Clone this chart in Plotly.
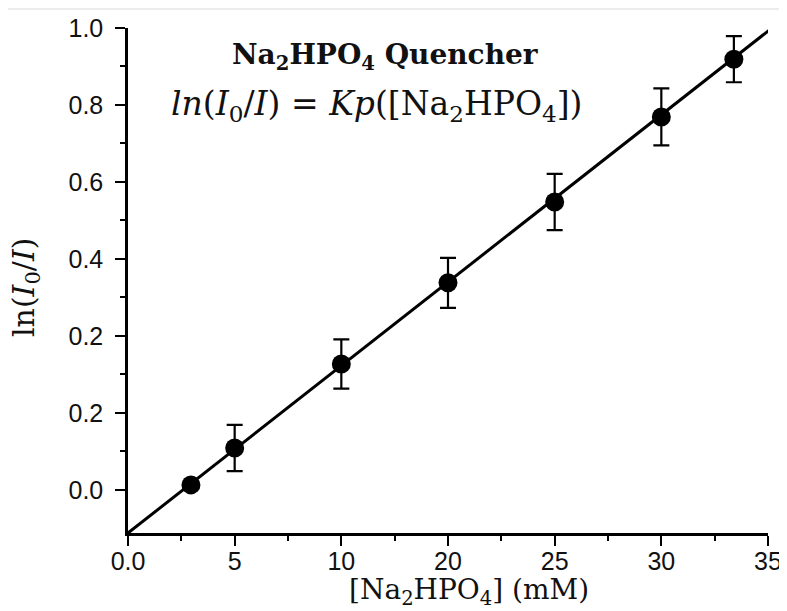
import plotly.graph_objects as go

# Data in axis units (ticks are evenly spaced; labels as printed in the original)
X_POS = [2.95, 5.0, 10.0, 15.0, 20.0, 25.0, 28.4]
Y_VAL = [0.013, 0.109, 0.327, 0.538, 0.748, 0.969, 1.119]
Y_ERR = [0.0, 0.060, 0.064, 0.065, 0.073, 0.074, 0.060]

FIT_X = [0.0, 30.3]
FIT_Y = [-0.112, 1.205]

X_TICKVALS = [0, 5, 10, 15, 20, 25, 30]
X_TICKTEXT = ["0.0", "5", "10", "20", "25", "30", "35"]
X_MINOR = [2.5, 7.5, 12.5, 17.5, 22.5, 27.5]

Y_TICKVALS = [0.0, 0.2, 0.4, 0.6, 0.8, 1.0, 1.2]
Y_TICKTEXT = ["0.0", "0.2", "0.2", "0.4", "0.6", "0.8", "1.0"]
Y_MINOR = [0.1, 0.3, 0.5, 0.7, 0.9, 1.1]

SANS = "Liberation Sans, Arial, sans-serif"
SERIF = "DejaVu Serif, serif"

fig = go.Figure()
fig.add_trace(go.Scatter(
    x=FIT_X, y=FIT_Y, mode="lines",
    line=dict(color="black", width=3), showlegend=False, hoverinfo="skip"))
fig.add_trace(go.Scatter(
    x=X_POS, y=Y_VAL, mode="markers",
    marker=dict(color="black", size=19),
    error_y=dict(type="data", array=Y_ERR, visible=True, color="black",
                 thickness=2.2, width=8),
    showlegend=False, cliponaxis=False))

axis_common = dict(
    showline=True, linecolor="black", linewidth=2.5, showgrid=False,
    zeroline=False, ticks="outside", ticklen=10, tickwidth=2.2, tickcolor="black",
    tickfont=dict(family=SANS, size=25, color="#111"), mirror=False,
    automargin=False,
)
fig.update_xaxes(
    **axis_common, range=[0, 30], tickmode="array",
    tickvals=X_TICKVALS, ticktext=X_TICKTEXT, ticklabelstandoff=-6,
    minor=dict(tickmode="array", tickvals=X_MINOR, ticks="outside",
               ticklen=5, tickwidth=2.2, tickcolor="black"),
)
fig.update_yaxes(
    **axis_common, range=[-0.112, 1.2], tickmode="array",
    tickvals=Y_TICKVALS, ticktext=Y_TICKTEXT, ticklabelstandoff=7,
    minor=dict(tickmode="array", tickvals=Y_MINOR, ticks="outside",
               ticklen=5, tickwidth=2.2, tickcolor="black"),
)

ann = dict(xref="paper", yref="paper", showarrow=False,
           xanchor="center", yanchor="middle")

# Axis titles
fig.add_annotation(
    **ann, x=0.533, y=-0.115,
    text="[Na<sub>2</sub>HPO<sub>4</sub>] (mM)",
    font=dict(family=SERIF, size=28, color="#111"))
fig.add_annotation(
    **ann, x=-0.161, y=0.487, textangle=-90,
    text="ln(<i>I</i><sub>0</sub>/<i>I</i>)",
    font=dict(family=SERIF, size=30, color="#111"))

# In-plot labels
fig.add_annotation(
    **ann, x=0.403, y=0.943,
    text="<b>Na<sub>2</sub>HPO<sub>4</sub> Quencher</b>",
    font=dict(family=SERIF, size=28, color="#111"))
fig.add_annotation(
    **ann, x=0.389, y=0.846,
    text="<i>ln</i>(<i>I</i><sub>0</sub>/<i>I</i>) = <i>Kp</i>([Na<sub>2</sub>HPO<sub>4</sub>])",
    font=dict(family=SERIF, size=33, color="#111"))

fig.add_shape(type="line", xref="paper", yref="paper",
              x0=-0.25, x1=1.05, y0=1.0376, y1=1.0376,
              line=dict(color="#e6e6e6", width=1.5))

fig.update_layout(
    width=779, height=603,
    margin=dict(l=120, r=19, t=20, b=78),
    paper_bgcolor="white", plot_bgcolor="white",
)

fig.write_html("out.html")
